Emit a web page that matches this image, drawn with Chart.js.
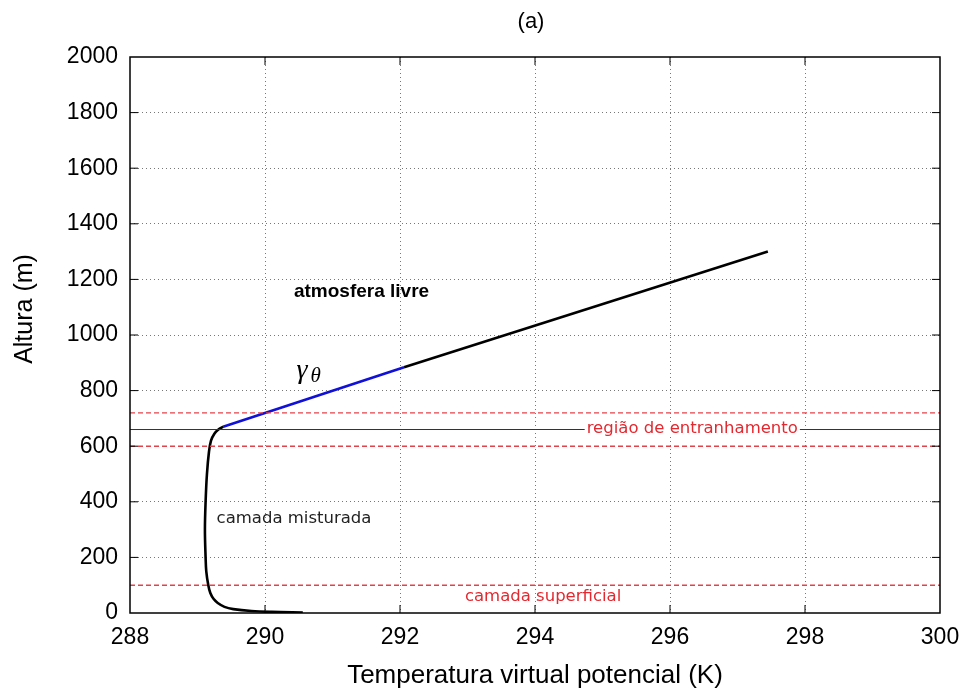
<!DOCTYPE html>
<html>
<head>
<meta charset="utf-8">
<script src="https://cdn.jsdelivr.net/npm/chart.js@4.4.1/dist/chart.umd.min.js"></script>
<style>
  html, body { margin: 0; padding: 0; background: #fff; }
  #wrap { width: 967px; height: 691px; }
</style>
</head>
<body>
<div id="wrap"><canvas id="perfil"></canvas></div>
<script>
// perfil de temperatura virtual potencial
const mixedT = [290.56, 290.1, 289.8, 289.53, 289.4, 289.3, 289.24, 289.19, 289.16, 289.13, 289.12, 289.11, 289.12, 289.14, 289.17, 289.2, 289.25, 289.31, 289.38]
const mixedZ = [2, 4, 7, 14, 22, 36, 50, 72, 100, 150, 200, 300, 400, 500, 580, 620, 645, 660, 670]
const gammaT = [289.38, 292.06]
const gammaZ = [670, 884]
const freeT = [292.06, 297.45]
const freeZ = [884, 1300]

// niveis horizontais
const dashedLevels = [100, 600, 720]
const topLevel = 660

const xMin = 288, xMax = 300, xStep = 2
const yMin = 0, yMax = 2000, yStep = 200

const sans = '"Liberation Sans", Arial, Helvetica, sans-serif'
const dejavu = '"DejaVu Sans", sans-serif'

// textos dentro do grafico (posicao em coordenadas dos dados)
const notes = [
  { text: 'atmosfera livre', t: 291.43, z: 1155, font: 'bold 19px ' + sans, color: '#000', bg: false },
  { text: 'camada misturada', t: 290.43, z: 340, font: '16.5px ' + dejavu, color: '#222', bg: false },
  { text: 'região de entranhamento', t: 296.33, z: 662, font: '16.5px ' + dejavu, color: '#e3282f', bg: true },
  { text: 'camada superficial', t: 294.12, z: 60, font: '16.5px ' + dejavu, color: '#e3282f', bg: false }
]
const gammaLabel = { t: 290.66, z: 862 }

const toXY = (ts, zs) => ts.map((t, i) => ({ x: t, y: zs[i] }))
const level = z => [{ x: xMin, y: z }, { x: xMax, y: z }]

const datasets = []
dashedLevels.forEach(z => {
  datasets.push({ data: level(z), borderColor: '#e2434b', borderWidth: 1.4, borderDash: [5, 3], pointRadius: 0 })
})
datasets.push({ data: level(topLevel), borderColor: '#333', borderWidth: 1, pointRadius: 0 })
datasets.push({ data: toXY(mixedT, mixedZ), borderColor: '#000', borderWidth: 2.6, pointRadius: 0, tension: 0.35 })
datasets.push({ data: toXY(gammaT, gammaZ), borderColor: '#1010d8', borderWidth: 2.6, pointRadius: 0 })
datasets.push({ data: toXY(freeT, freeZ), borderColor: '#000', borderWidth: 2.6, pointRadius: 0 })

const edge = (v, lo, hi) => v === lo || v === hi

// borda, marcas internas, titulos e textos
const framePlugin = {
  id: 'frame',
  afterDatasetsDraw(chart) {
    const { ctx, chartArea: a, scales: { x, y } } = chart
    ctx.save()
    ctx.textAlign = 'center'
    ctx.textBaseline = 'middle'
    notes.forEach(n => {
      ctx.font = n.font
      const px = x.getPixelForValue(n.t)
      const py = y.getPixelForValue(n.z)
      if (n.bg) {
        const w = ctx.measureText(n.text).width
        ctx.fillStyle = '#fff'
        ctx.fillRect(px - w / 2 - 2, py - 6, w + 4, 12)
      }
      ctx.fillStyle = n.color
      ctx.fillText(n.text, px, py)
    })

    // gamma com indice theta
    const gx = x.getPixelForValue(gammaLabel.t)
    const gy = y.getPixelForValue(gammaLabel.z)
    ctx.fillStyle = '#000'
    ctx.textAlign = 'left'
    ctx.textBaseline = 'alphabetic'
    ctx.font = 'italic 28px "Liberation Serif", "DejaVu Serif", serif'
    ctx.fillText('γ', gx - 13, gy + 5)
    ctx.font = 'italic 21px "Liberation Serif", "DejaVu Serif", serif'
    ctx.fillText('θ', gx + 1, gy + 9)

    // titulo do painel e do eixo y
    ctx.textAlign = 'center'
    ctx.textBaseline = 'middle'
    ctx.font = '22px ' + sans
    ctx.fillText('(a)', (a.left + a.right) / 2 - 4, 22)
    ctx.save()
    ctx.translate(25, 309)
    ctx.rotate(-Math.PI / 2)
    ctx.font = '25px ' + sans
    ctx.fillText('Altura (m)', 0, 0)
    ctx.restore()

    ctx.strokeStyle = '#000'
    ctx.lineWidth = 1.5
    ctx.strokeRect(a.left, a.top, a.right - a.left, a.bottom - a.top)
    const len = 8
    ctx.beginPath()
    for (let v = xMin + xStep; v < xMax; v += xStep) {
      const px = x.getPixelForValue(v)
      ctx.moveTo(px, a.bottom); ctx.lineTo(px, a.bottom - len)
      ctx.moveTo(px, a.top); ctx.lineTo(px, a.top + len)
    }
    for (let v = yMin + yStep; v < yMax; v += yStep) {
      const py = y.getPixelForValue(v)
      ctx.moveTo(a.left, py); ctx.lineTo(a.left + len, py)
      ctx.moveTo(a.right, py); ctx.lineTo(a.right - len, py)
    }
    ctx.lineWidth = 1
    ctx.stroke()
    ctx.restore()
  }
}

const tickFont = { family: sans, size: 23 }

new Chart(document.getElementById('perfil'), {
  type: 'scatter',
  data: { datasets: datasets },
  options: {
    responsive: true,
    maintainAspectRatio: false,
    animation: false,
    showLine: true,
    layout: { padding: { top: 57, right: 27, left: 0, bottom: 0 } },
    plugins: {
      legend: { display: false },
      tooltip: { enabled: false }
    },
    scales: {
      x: {
        type: 'linear',
        min: xMin,
        max: xMax,
        ticks: { stepSize: xStep, color: '#000', font: tickFont, padding: 11, callback: v => String(v) },
        grid: {
          color: c => edge(c.tick.value, xMin, xMax) ? 'rgba(0,0,0,0)' : '#777',
          lineWidth: 1,
          drawTicks: false
        },
        border: { display: false, dash: [1, 3] },
        title: {
          display: true,
          text: 'Temperatura virtual potencial (K)',
          color: '#000',
          font: { family: sans, size: 26 },
          padding: { top: 0, bottom: 0 }
        },
        afterFit: s => {
          s.height = 78
          s.paddingLeft = 0
          s.paddingRight = 0
        }
      },
      y: {
        type: 'linear',
        min: yMin,
        max: yMax,
        ticks: { stepSize: yStep, color: '#000', font: tickFont, padding: 12, callback: v => String(v) },
        grid: {
          color: c => edge(c.tick.value, yMin, yMax) ? 'rgba(0,0,0,0)' : '#777',
          lineWidth: 1,
          drawTicks: false
        },
        border: { display: false, dash: [1, 3] },
        afterFit: s => {
          s.width = 130
          s.paddingTop = 0
          s.paddingBottom = 0
        }
      }
    }
  },
  plugins: [framePlugin]
})
</script>
</body>
</html>
